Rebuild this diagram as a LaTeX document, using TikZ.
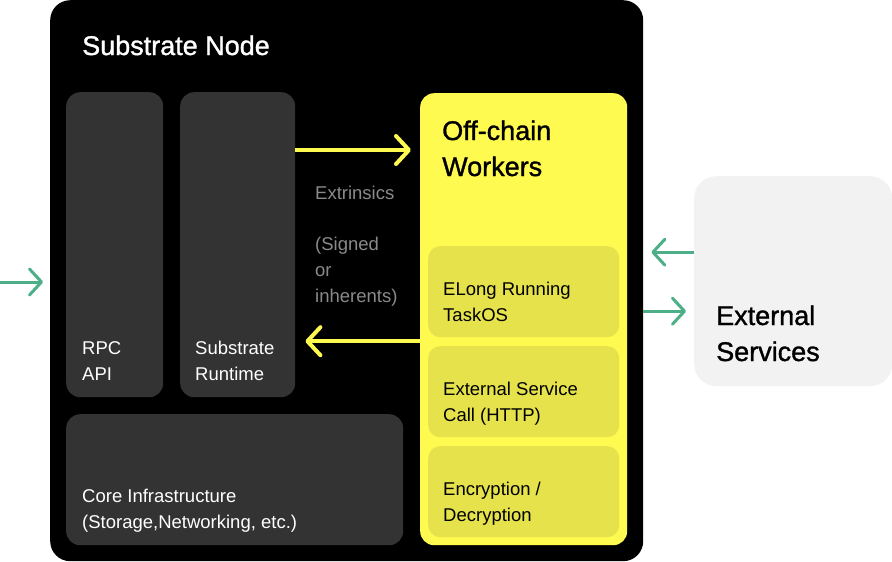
\documentclass[tikz,border=0pt]{standalone}
\usepackage{fontspec}
\setmainfont{Liberation Sans}
\newfontfamily\mediumfont[FakeBold=1.2]{Liberation Sans}
\usepackage{xcolor}
\usetikzlibrary{shapes, arrows.meta, positioning}

\begin{document}
\begin{tikzpicture}[x=1pt, y=-1pt]

	\definecolor{my_black}{RGB}{0,0,0}
\definecolor{my_gray_dark}{RGB}{51,51,51}
\definecolor{my_gray_light}{RGB}{242,242,242}
\definecolor{my_gray_text}{RGB}{138,138,138}

\definecolor{my_yellow}{RGB}{255,250,80}
\definecolor{my_yellow_dark}{RGB}{230,226,76}

\definecolor{my_green}{RGB}{77,175,135}

\tikzstyle{frame} = [rectangle, fill=my_black, rounded corners=20pt, anchor=north west, inner sep=0pt]
\tikzstyle{block} = [rectangle, fill=my_gray_dark, rounded corners=14pt, anchor=north west, inner sep=0pt]
\tikzstyle{worker} = [rectangle, fill=my_yellow, rounded corners=14pt, anchor=north west, inner sep=0pt]
\tikzstyle{task} = [rectangle, fill=my_yellow_dark, rounded corners=12pt, anchor=north west, inner sep=0pt, minimum width=191pt, minimum height=91pt]
\tikzstyle{service} = [rectangle, fill=my_gray_light, rounded corners=22pt, anchor=north west, inner sep=0pt]
\tikzstyle{text_big} = [anchor=base west, align=left, inner sep=0pt, font=\mediumfont\fontsize{27}{36}\selectfont]
\tikzstyle{text_small} = [anchor=base west, align=left, inner sep=0pt, font=\fontsize{18.5}{26}\selectfont]
\tikzstyle{yline} = [draw=my_yellow, line width=4pt, -{Straight Barb[length=13pt, width=28pt, round]}]
\tikzstyle{gline} = [draw=my_green, line width=3pt, -{Straight Barb[length=12pt, width=26pt, round]}]

	\useasboundingbox (0,0) rectangle (892,562);

	\node [frame, minimum width=593pt, minimum height=561pt] (substrate) at (50,0) {};
	\node [text_big, white] (title) at (82,55) {Substrate Node};

	\node [block, minimum width=97pt, minimum height=305pt] (rpc) at (66,92) {};
	\node [block, minimum width=115pt, minimum height=305pt] (runtime) at (180,92) {};
	\node [block, minimum width=337pt, minimum height=131pt] (core) at (66,414) {};

	\node [text_small, white] (rpc_text) at (82,380) {RPC\\API};
	\node [text_small, white] (runtime_text) at (195,380) {Substrate\\Runtime};
	\node [text_small, white] (core_text) at (82,528) {Core Infrastructure\\(Storage,Networking, etc.)};

	\node [worker, minimum width=207pt, minimum height=452pt] (ocw) at (420,93) {};
	\node [text_big] (ocw_text) at (442,176) {Off-chain\\Workers};

	\node [task] (task_long) at (428,246) {};
	\node [task] (task_http) at (428,346) {};
	\node [task] (task_crypt) at (428,446) {};

	\node [text_small] (long_text) at (443,321) {ELong Running\\TaskOS};
	\node [text_small] (http_text) at (443,421) {External Service\\Call (HTTP)};
	\node [text_small] (crypt_text) at (443,521) {Encryption /\\Decryption};

	\node [text_small, my_gray_text] (extr_text) at (315,199) {Extrinsics};
	\node [text_small, my_gray_text] (signed_text) at (315,302) {(Signed\\or\\inherents)};

	\node [service, minimum width=198pt, minimum height=210pt] (ext) at (694,176) {};
	\node [text_big] (ext_text) at (716,361) {External\\Services};

	\coordinate (rpc_in) at (0,282);
	\coordinate (back) at ([yshift=-22pt]ocw.west);

	\draw [yline, shorten >=9pt] ([yshift=-58pt]runtime.north east) -- ([yshift=-57pt]ocw.north west);
	\draw [yline, shorten >=10pt] (back) -- (back -| runtime.east);
	\draw [gline, shorten >=7pt] (rpc_in) -- (rpc_in -| substrate.west);
	\draw [gline, shorten >=8pt] ([yshift=29pt]ext.west) -- ([yshift=29pt]ext.west -| substrate.east);
	\draw [gline, shorten >=8pt] ([yshift=-30pt]substrate.east |- ext.west) -- ([yshift=-30pt]ext.west);

\end{tikzpicture}
\end{document}
